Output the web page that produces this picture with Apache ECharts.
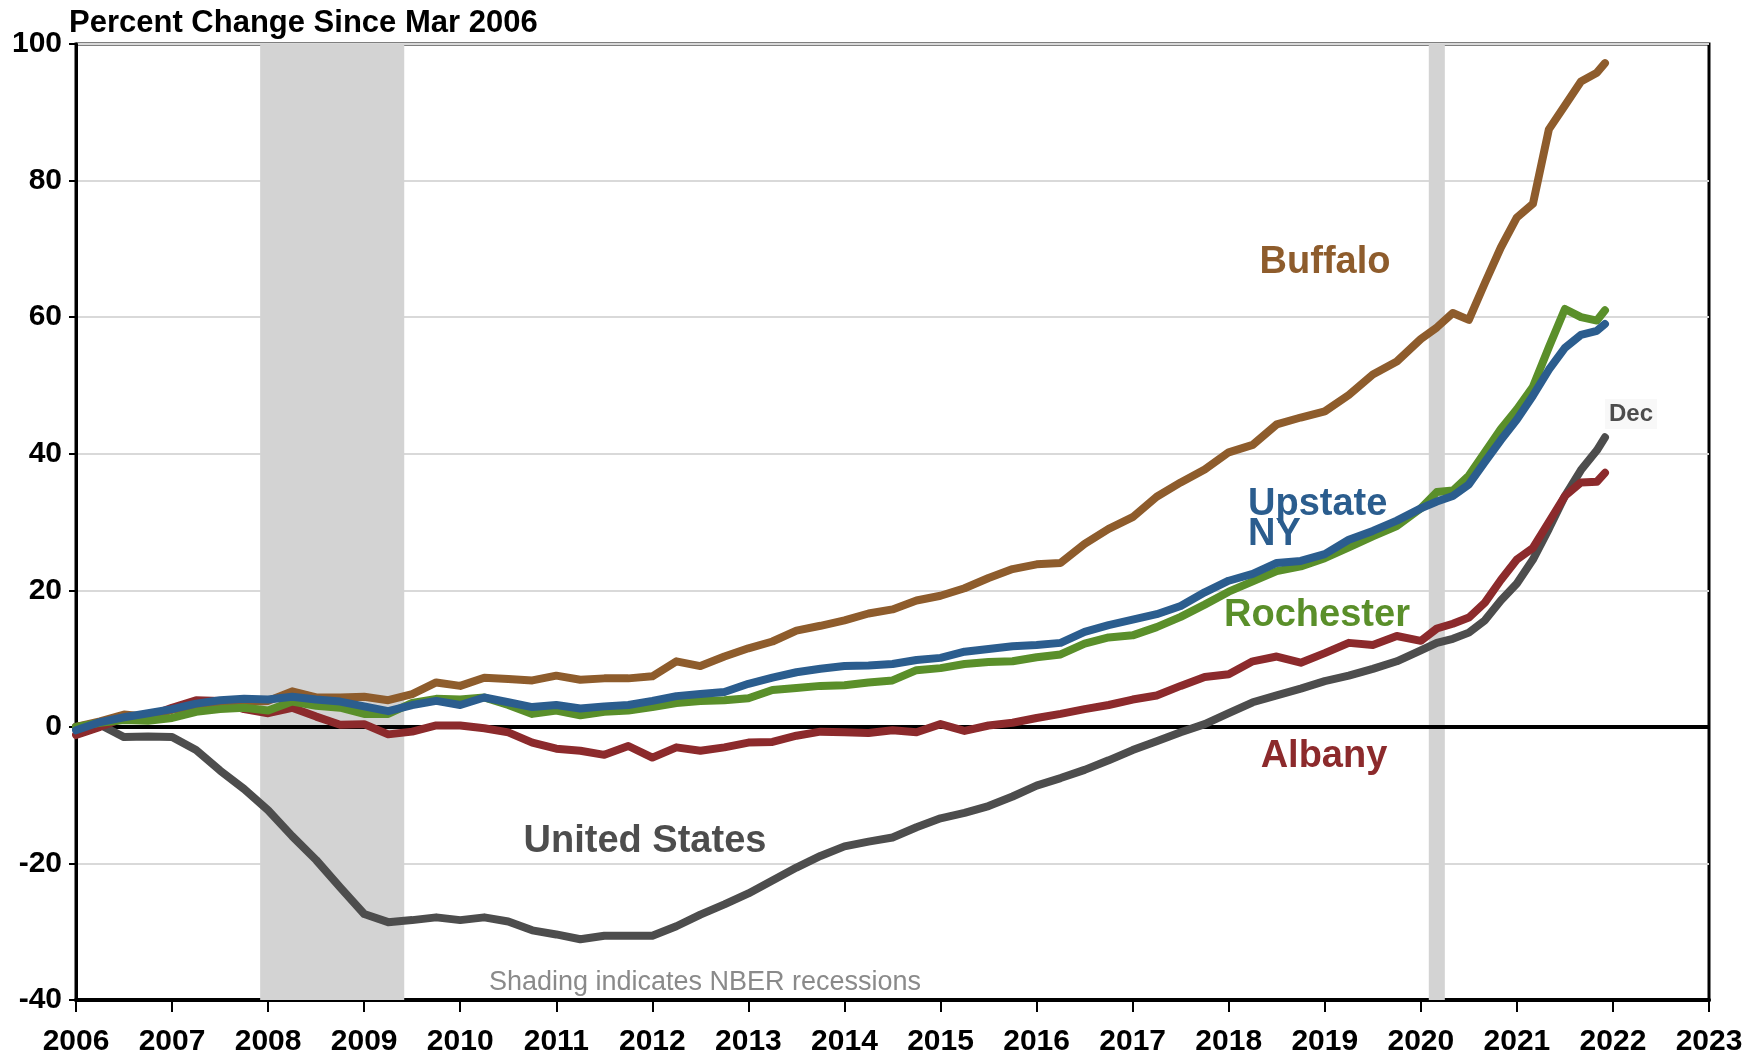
<!DOCTYPE html>
<html>
<head>
<meta charset="utf-8">
<title>Percent Change Since Mar 2006</title>
<script src="https://cdn.jsdelivr.net/npm/echarts@6/dist/echarts.min.js"></script>
<style>
  html, body { margin: 0; padding: 0; background: #fff; }
  #chart { width: 1761px; height: 1060px; }
</style>
</head>
<body>
<div id="chart"></div>
<script>
// time in decimal years (quarterly, then every two months from 2020)
var years = [
  2006.0, 2006.25, 2006.5, 2006.75,
  2007.0, 2007.25, 2007.5, 2007.75,
  2008.0, 2008.25, 2008.5, 2008.75,
  2009.0, 2009.25, 2009.5, 2009.75,
  2010.0, 2010.25, 2010.5, 2010.75,
  2011.0, 2011.25, 2011.5, 2011.75,
  2012.0, 2012.25, 2012.5, 2012.75,
  2013.0, 2013.25, 2013.5, 2013.75,
  2014.0, 2014.25, 2014.5, 2014.75,
  2015.0, 2015.25, 2015.5, 2015.75,
  2016.0, 2016.25, 2016.5, 2016.75,
  2017.0, 2017.25, 2017.5, 2017.75,
  2018.0, 2018.25, 2018.5, 2018.75,
  2019.0, 2019.25, 2019.5, 2019.75,
  2020.0, 2020.167, 2020.333, 2020.5, 2020.667, 2020.833,
  2021.0, 2021.167, 2021.333, 2021.5, 2021.667, 2021.833, 2021.917
]

var unitedStates = [
  0, 0.3, -1.5, -1.4,
  -1.5, -3.4, -6.4, -9.1,
  -12.2, -16.0, -19.5, -23.5,
  -27.4, -28.6, -28.3, -27.9,
  -28.3, -27.9, -28.5, -29.8,
  -30.4, -31.1, -30.6, -30.6,
  -30.6, -29.2, -27.5, -26.0,
  -24.4, -22.5, -20.6, -18.9,
  -17.5, -16.8, -16.2, -14.7,
  -13.4, -12.6, -11.6, -10.2,
  -8.6, -7.5, -6.3, -4.9,
  -3.4, -2.1, -0.8, 0.4,
  2.0, 3.6, 4.6, 5.6,
  6.7, 7.5, 8.5, 9.6,
  11.2, 12.3, 12.9, 13.8, 15.6, 18.5,
  21.0, 24.5, 29.0, 33.8, 37.6, 40.5, 42.4
]

var albany = [
  -1.2, 0, 1.3, 1.5,
  2.8, 3.9, 3.8, 2.6,
  2.0, 2.8, 1.5, 0.3,
  0.4, -1.1, -0.7, 0.2,
  0.2, -0.2, -0.8, -2.3,
  -3.2, -3.5, -4.1, -2.8,
  -4.5, -3.0, -3.5, -3.0,
  -2.3, -2.2, -1.3, -0.7,
  -0.8, -0.9, -0.5, -0.8,
  0.4, -0.6, 0.2, 0.6,
  1.3, 1.9, 2.6, 3.2,
  4.0, 4.6, 6.0, 7.3,
  7.7, 9.6, 10.3, 9.4,
  10.8, 12.3, 12.0, 13.3,
  12.6, 14.4, 15.1, 16.0, 18.2, 21.5,
  24.5, 26.2, 30.0, 33.8, 35.8, 35.9, 37.2
]

var buffalo = [
  0, 0.8, 1.8, 1.5,
  2.5, 3.0, 3.3, 3.6,
  3.8, 5.2, 4.3, 4.3,
  4.4, 3.9, 4.8, 6.5,
  6.0, 7.2, 7.0, 6.8,
  7.5, 6.9, 7.1, 7.1,
  7.4, 9.6, 8.9, 10.3,
  11.5, 12.5, 14.1, 14.8,
  15.6, 16.6, 17.2, 18.5,
  19.2, 20.3, 21.8, 23.1,
  23.8, 24.0, 26.8, 29.0,
  30.7, 33.7, 35.8, 37.7,
  40.2, 41.3, 44.3, 45.3,
  46.2, 48.6, 51.6, 53.5,
  56.8, 58.5, 60.6, 59.6, 65.0, 70.2,
  74.6, 76.6, 87.5, 91.0, 94.5, 95.8, 97.2
]

var rochester = [
  0, 0.6, 1.0, 0.9,
  1.3, 2.2, 2.6, 2.8,
  2.4, 3.7, 3.1, 2.8,
  1.9, 1.9, 3.5, 4.1,
  4.0, 4.3, 3.2, 1.9,
  2.4, 1.7, 2.2, 2.4,
  2.9, 3.5, 3.8, 3.9,
  4.2, 5.4, 5.7, 6.0,
  6.1, 6.5, 6.8, 8.3,
  8.6, 9.2, 9.5, 9.6,
  10.2, 10.6, 12.2, 13.1,
  13.4, 14.6, 16.1, 17.9,
  19.8, 21.3, 22.8, 23.5,
  24.7, 26.3, 27.9, 29.4,
  32.0, 34.4, 34.6, 36.8, 40.2, 43.6,
  46.5, 49.8, 55.6, 61.2, 60.0, 59.5, 61.0
]

var upstateNY = [
  -0.5, 0.7, 1.4, 2.0,
  2.6, 3.4, 3.9, 4.1,
  4.0, 4.4, 4.0, 3.7,
  3.0, 2.3, 3.2, 3.8,
  3.2, 4.3, 3.6, 2.9,
  3.2, 2.7, 3.0, 3.2,
  3.8, 4.5, 4.8, 5.1,
  6.3, 7.2, 8.0, 8.5,
  8.9, 9.0, 9.2, 9.8,
  10.1, 11.0, 11.4, 11.8,
  12.0, 12.3, 13.9, 14.9,
  15.7, 16.5, 17.7, 19.7,
  21.4, 22.4, 24.0, 24.3,
  25.3, 27.4, 28.7, 30.2,
  32.0, 33.0, 33.8, 35.5, 38.8, 42.0,
  45.0, 48.5, 52.3, 55.5, 57.4, 58.0, 59.0
]

// NBER recessions (start, end) in decimal years
var recessions = [[2007.917, 2009.417], [2020.083, 2020.25]]

var FONT = "'Liberation Sans', Arial, sans-serif"

function pairs(arr) {
  return years.map(function (t, i) { return [t, arr[i]] })
}

function lineSeries(name, arr, color) {
  return {
    name: name,
    type: 'line',
    data: pairs(arr),
    showSymbol: false,
    symbol: 'none',
    smooth: false,
    z: 5,
    lineStyle: { color: color, width: 8, cap: 'round', join: 'round' },
    animation: false
  }
}

function label(text, x, y, color, size, align) {
  return {
    type: 'text',
    x: x,
    y: y,
    z: 20,
    style: {
      text: text,
      fill: color,
      font: 'bold ' + size + 'px ' + FONT,
      align: align || 'center',
      verticalAlign: 'middle'
    }
  }
}

var chart = echarts.init(document.getElementById('chart'))

chart.setOption({
  backgroundColor: '#fff',
  animation: false,
  grid: {
    left: 76,
    right: 52,
    top: 44,
    bottom: 60,
    show: true,
    borderColor: '#000',
    borderWidth: 3,
    backgroundColor: 'transparent'
  },
  xAxis: {
    type: 'value',
    min: 2006,
    max: 2023,
    interval: 1,
    axisLine: { show: true, onZero: false, lineStyle: { color: '#000', width: 4 } },
    axisTick: { show: true, length: 12, lineStyle: { color: '#000', width: 2 } },
    splitLine: { show: false },
    axisLabel: {
      margin: 27,
      color: '#000',
      fontSize: 30,
      fontWeight: 'bold',
      fontFamily: FONT,
      lineHeight: 30,
      formatter: function (v) { return String(v) }
    }
  },
  yAxis: {
    type: 'value',
    min: -40,
    max: 100,
    interval: 20,
    axisLine: { show: true, lineStyle: { color: '#000', width: 3 } },
    axisTick: { show: true, length: 7, lineStyle: { color: '#000', width: 2 } },
    splitLine: { show: true, lineStyle: { color: '#d9d9d9', width: 2 } },
    axisLabel: {
      margin: 14,
      color: '#000',
      fontSize: 30,
      fontWeight: 'bold',
      fontFamily: FONT
    }
  },
  series: [
    {
      // recession shading
      type: 'line',
      data: [],
      z: 1,
      silent: true,
      markArea: {
        silent: true,
        itemStyle: { color: '#d3d3d3' },
        data: recessions.map(function (r) { return [{ xAxis: r[0] }, { xAxis: r[1] }] })
      }
    },
    {
      // zero line
      type: 'line',
      data: [],
      z: 2,
      silent: true,
      markLine: {
        silent: true,
        symbol: 'none',
        label: { show: false },
        lineStyle: { color: '#000', width: 4, type: 'solid' },
        data: [{ yAxis: 0 }]
      }
    },
    lineSeries('United States', unitedStates, '#4d4d4d'),
    lineSeries('Albany', albany, '#8c2a2c'),
    lineSeries('Buffalo', buffalo, '#8e5c2c'),
    lineSeries('Rochester', rochester, '#5a8f2a'),
    lineSeries('Upstate NY', upstateNY, '#2b5d8e')
  ],
  graphic: [
    label('Percent Change Since Mar 2006', 69, 23, '#000', 31, 'left'),
    label('Buffalo', 1325, 263, '#8e5c2c', 38),
    label('Upstate', 1248, 505, '#2b5d8e', 38, 'left'),
    label('NY', 1248, 535, '#2b5d8e', 38, 'left'),
    label('Rochester', 1317, 616, '#5a8f2a', 38),
    label('Albany', 1324, 757, '#8c2a2c', 38),
    label('United States', 645, 842, '#4d4d4d', 38),
    {
      type: 'text',
      x: 1631,
      y: 414,
      z: 20,
      style: {
        text: 'Dec',
        fill: '#4d4d4d',
        font: 'bold 24px ' + FONT,
        align: 'center',
        verticalAlign: 'middle',
        backgroundColor: '#f8f8f8',
        padding: [3, 4]
      }
    },
    {
      type: 'text',
      x: 705,
      y: 983,
      z: 20,
      style: {
        text: 'Shading indicates NBER recessions',
        fill: '#8a8a8a',
        font: '27px ' + FONT,
        align: 'center',
        verticalAlign: 'middle'
      }
    }
  ]
})
</script>
</body>
</html>
